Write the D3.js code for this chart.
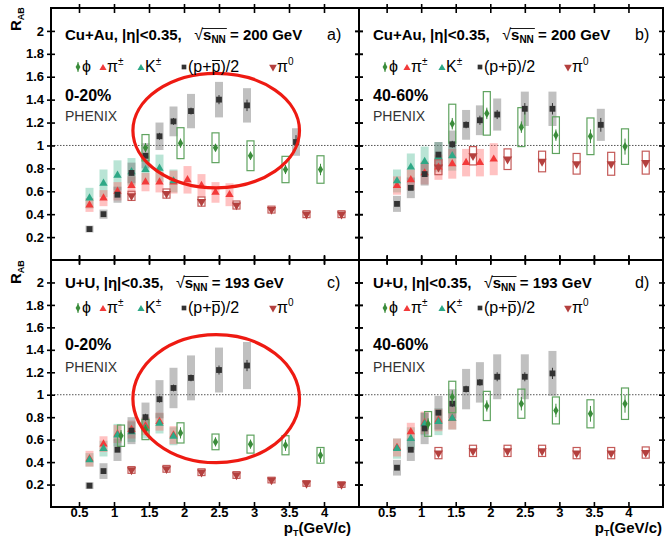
<!DOCTYPE html>
<html>
<head>
<meta charset="utf-8">
<script src="https://cdn.jsdelivr.net/npm/d3@7"></script>
<style>
  body { margin: 0; background: #fff; }
  svg { display: block; font-family: "Liberation Sans", Arial, Helvetica, sans-serif; }
</style>
</head>
<body>
<div id="chart"></div>
<script>
// pT bin centres (GeV/c)
const ptPiK = [0.65, 0.85, 1.05, 1.25, 1.45, 1.65, 1.85, 2.05, 2.25, 2.45, 2.65];
const ptP = [0.65, 0.85, 1.05, 1.25, 1.45, 1.65, 1.85, 2.1, 2.5, 2.9, 3.6];
const ptPhiCuAu = [1.45, 1.95, 2.45, 2.95, 3.45, 3.95];
const ptPhiUU = [1.1, 1.45, 1.95, 2.45, 2.95, 3.45, 3.95];
const ptPi0 = [1.25, 1.75, 2.25, 2.75, 3.25, 3.75, 4.25];

const xTicks = [0.5, 1, 1.5, 2, 2.5, 3, 3.5, 4];
const yTicks = [0.2, 0.4, 0.6, 0.8, 1, 1.2, 1.4, 1.6, 1.8, 2];

// a) Cu+Au 0-20%
const phiA = [0.98, 1.02, 0.98, 0.91, 0.79, 0.79];
const phiAsys = [0.115, 0.135, 0.13, 0.13, 0.115, 0.12];
const phiAstat = [0.04, 0.04, 0.03, 0.035, 0.04, 0.05];
const piA = [0.48, 0.54, 0.60, 0.65, 0.68, 0.68, 0.68, 0.70, 0.65, 0.59, 0.57];
const piAsys = [0.06, 0.07, 0.08, 0.08, 0.08, 0.09, 0.1, 0.12, 0.1, 0.09, 0.1];
const kA = [0.54, 0.67, 0.74, 0.77, 0.79, 0.80, 0.69];
const kAsys = [0.09, 0.12, 0.13, 0.12, 0.12, 0.12, 0.1];
const pA = [0.27, 0.40, 0.57, 0.76, 0.91, 1.08, 1.21, 1.30, 1.40, 1.35, 1.03];
const pAsys = [0.03, 0.04, 0.07, 0.09, 0.11, 0.12, 0.13, 0.15, 0.155, 0.15, 0.12];
const pAstat = [0.01, 0.01, 0.02, 0.02, 0.02, 0.03, 0.03, 0.03, 0.04, 0.05, 0.06];
const pi0A = [0.56, 0.58, 0.51, 0.48, 0.44, 0.40, 0.40];
const pi0Asys = [0.04, 0.04, 0.04, 0.035, 0.03, 0.03, 0.03];

// b) Cu+Au 40-60%
const phiB = [1.19, 1.28, 1.16, 1.09, 1.08, 0.99];
const phiBsys = [0.17, 0.19, 0.17, 0.16, 0.16, 0.155];
const phiBstat = [0.05, 0.05, 0.05, 0.05, 0.06, 0.07];
const piB = [0.65, 0.70, 0.76, 0.81, 0.84, 0.85, 0.85, 0.88];
const piBsys = [0.08, 0.09, 0.1, 0.11, 0.13, 0.12, 0.12, 0.14];
const kB = [0.69, 0.81, 0.86, 0.90, 0.91];
const kBsys = [0.1, 0.12, 0.13, 0.13, 0.13];
const pB = [0.49, 0.63, 0.75, 0.92, 1.01, 1.18, 1.22, 1.27, 1.32, 1.32, 1.18];
const pBsys = [0.07, 0.09, 0.1, 0.11, 0.12, 0.13, 0.13, 0.14, 0.15, 0.15, 0.14];
const pBstat = [0.01, 0.02, 0.02, 0.02, 0.03, 0.03, 0.04, 0.04, 0.05, 0.05, 0.06];
const pi0B = [0.81, 0.91, 0.88, 0.86, 0.84, 0.84, 0.85];
const pi0Bsys = [0.065, 0.08, 0.09, 0.09, 0.09, 0.1, 0.1];

// c) U+U 0-20%
const phiC = [0.635, 0.69, 0.66, 0.58, 0.56, 0.55, 0.46];
const phiCsys = [0.095, 0.09, 0.09, 0.07, 0.08, 0.085, 0.07];
const phiCstat = [0.05, 0.04, 0.05, 0.04, 0.04, 0.05, 0.06];
const piC = [0.43, 0.56, 0.65, 0.69, 0.72, 0.76, 0.64];
const piCsys = [0.07, 0.07, 0.08, 0.08, 0.08, 0.08, 0.08];
const kC = [0.42, 0.52, 0.64, 0.67, 0.70, 0.745, 0.63];
const kCsys = [0.06, 0.07, 0.1, 0.09, 0.09, 0.09, 0.08];
const pC = [0.19, 0.32, 0.51, 0.68, 0.80, 0.96, 1.06, 1.15, 1.22, 1.26];
const pCsys = [0.03, 0.07, 0.1, 0.12, 0.13, 0.17, 0.18, 0.2, 0.2, 0.21];
const pCstat = [0.01, 0.01, 0.02, 0.02, 0.03, 0.03, 0.03, 0.03, 0.04, 0.05];
const pi0C = [0.33, 0.34, 0.31, 0.285, 0.24, 0.21, 0.20];
const pi0Csys = [0.03, 0.03, 0.03, 0.03, 0.025, 0.025, 0.025];

// d) U+U 40-60%
const phiD = [0.74, 0.98, 0.90, 0.92, 0.86, 0.83, 0.92];
const phiDsys = [0.11, 0.14, 0.13, 0.13, 0.12, 0.125, 0.14];
const phiDstat = [0.05, 0.06, 0.05, 0.06, 0.06, 0.07, 0.08];
const piD = [0.53, 0.67, 0.75, 0.775, 0.79];
const piDsys = [0.08, 0.08, 0.1, 0.1, 0.1];
const kD = [0.52, 0.61, 0.74, 0.76, 0.79];
const kDsys = [0.09, 0.1, 0.1, 0.12, 0.1];
const pD = [0.35, 0.51, 0.70, 0.84, 0.92, 1.05, 1.11, 1.16, 1.16, 1.19];
const pDsys = [0.07, 0.1, 0.14, 0.15, 0.13, 0.18, 0.18, 0.2, 0.2, 0.2];
const pDstat = [0.01, 0.02, 0.02, 0.02, 0.03, 0.03, 0.03, 0.04, 0.04, 0.05];
const pi0D = [0.48, 0.50, 0.50, 0.50, 0.48, 0.48, 0.485];
const pi0Dsys = [0.05, 0.05, 0.05, 0.05, 0.05, 0.05, 0.05];

const panels = [
  { tag: "a)", row: 0, col: 0, sys: "Cu+Au", energy: "200", cent: "0-20%", ptPhi: ptPhiCuAu,
    phi: phiA, phiSys: phiAsys, phiStat: phiAstat, pi: piA, piSys: piAsys, k: kA, kSys: kAsys,
    p: pA, pSys: pAsys, pStat: pAstat, pi0: pi0A, pi0Sys: pi0Asys, ring: [2.46, 1.13, 1.19, 0.50] },
  { tag: "b)", row: 0, col: 1, sys: "Cu+Au", energy: "200", cent: "40-60%", ptPhi: ptPhiCuAu,
    phi: phiB, phiSys: phiBsys, phiStat: phiBstat, pi: piB, piSys: piBsys, k: kB, kSys: kBsys,
    p: pB, pSys: pBsys, pStat: pBstat, pi0: pi0B, pi0Sys: pi0Bsys },
  { tag: "c)", row: 1, col: 0, sys: "U+U", energy: "193", cent: "0-20%", ptPhi: ptPhiUU,
    phi: phiC, phiSys: phiCsys, phiStat: phiCstat, pi: piC, piSys: piCsys, k: kC, kSys: kCsys,
    p: pC, pSys: pCsys, pStat: pCstat, pi0: pi0C, pi0Sys: pi0Csys, ring: [2.46, 0.965, 1.19, 0.57] },
  { tag: "d)", row: 1, col: 1, sys: "U+U", energy: "193", cent: "40-60%", ptPhi: ptPhiUU,
    phi: phiD, phiSys: phiDsys, phiStat: phiDstat, pi: piD, piSys: piDsys, k: kD, kSys: kDsys,
    p: pD, pSys: pDsys, pStat: pDstat, pi0: pi0D, pi0Sys: pi0Dsys }
];

const W = 665, H = 539;
const cols = [[51, 359], [359, 663]];
const rows = [[8, 260], [260, 507]];
const rowText = [
  { title: 40, legend: 72, cent: 101, phenix: 121 },
  { title: 288, legend: 313, cent: 350, phenix: 372 }
];
const legendOffsets = [
  [27, 52, 90, 133, 222],
  [26, 48, 83, 121, 209]
];

const colors = {
  phi: "#3a8c3a", phiBox: "#5fa35f",
  pi: "#f23a3a", piBox: "rgba(255,110,110,0.42)",
  k: "#2ea886", kBox: "rgba(70,185,145,0.38)",
  p: "#333333", pBox: "rgba(115,115,115,0.45)",
  pi0: "#b4403e", pi0Box: "#c45a58"
};

const fmt = d3.format("~g");
const svg = d3.select("#chart").append("svg").attr("width", W).attr("height", H);

const sym = (type, size) => d3.symbol().type(type).size(size)();

function zip(pt, v, e, s) {
  return v.map((d, i) => ({ x: pt[i], y: d, e: e ? e[i] : 0, s: s ? s[i] : 0 }));
}

function filledBoxes(g, x, y, data, color) {
  g.append("g").selectAll("rect").data(data).enter().append("rect")
    .attr("x", d => x(d.x) - 4)
    .attr("width", 8)
    .attr("y", d => y(d.y + d.e))
    .attr("height", d => y(d.y - d.e) - y(d.y + d.e))
    .attr("fill", color);
}

function openBoxes(g, x, y, data, color) {
  g.append("g").selectAll("rect").data(data).enter().append("rect")
    .attr("x", d => x(d.x) - 3.5)
    .attr("width", 7)
    .attr("y", d => y(d.y + d.e))
    .attr("height", d => y(d.y - d.e) - y(d.y + d.e))
    .attr("fill", "none")
    .attr("stroke", color)
    .attr("stroke-width", 1.2);
}

function statBars(g, x, y, data, color) {
  g.append("g").selectAll("line").data(data).enter().append("line")
    .attr("x1", d => x(d.x)).attr("x2", d => x(d.x))
    .attr("y1", d => y(d.y + d.s)).attr("y2", d => y(d.y - d.s))
    .attr("stroke", color).attr("stroke-width", 1);
}

function markers(g, x, y, data, path, color, rot) {
  g.append("g").selectAll("path").data(data).enter().append("path")
    .attr("d", path)
    .attr("transform", d => `translate(${x(d.x)},${y(d.y)})` + (rot ? " rotate(180)" : ""))
    .attr("fill", color);
}

function drawPanel(p) {
  const [x0, x1] = cols[p.col];
  const [yt, yb] = rows[p.row];
  const x = d3.scaleLinear().domain([0.1, 4.5]).range([x0, x1]);
  const y = d3.scaleLinear().domain([0, 2.2]).range([yb, yt]);
  const g = svg.append("g");
  const rt = rowText[p.row];

  // unity line
  g.append("line")
    .attr("x1", x0).attr("x2", x1).attr("y1", y(1)).attr("y2", y(1))
    .attr("stroke", "#555").attr("stroke-width", 1).attr("stroke-dasharray", "1.5,1.5");

  const kData = zip(ptPiK, p.k, p.kSys);
  const piData = zip(ptPiK, p.pi, p.piSys);
  const pData = zip(ptP, p.p, p.pSys, p.pStat);
  const phiData = zip(p.ptPhi, p.phi, p.phiSys, p.phiStat);
  const pi0Data = zip(ptPi0, p.pi0, p.pi0Sys);

  // systematic boxes
  filledBoxes(g, x, y, kData, colors.kBox);
  filledBoxes(g, x, y, piData, colors.piBox);
  filledBoxes(g, x, y, pData, colors.pBox);
  openBoxes(g, x, y, pi0Data, colors.pi0Box);
  openBoxes(g, x, y, phiData, colors.phiBox);

  // points
  markers(g, x, y, piData, sym(d3.symbolTriangle, 30), colors.pi);
  markers(g, x, y, kData, sym(d3.symbolTriangle, 30), colors.k);
  markers(g, x, y, pi0Data, sym(d3.symbolTriangle, 36), colors.pi0, true);
  statBars(g, x, y, pData, colors.p);
  markers(g, x, y, pData, sym(d3.symbolSquare, 34), colors.p);
  statBars(g, x, y, phiData, colors.phi);
  markers(g, x, y, phiData, sym(d3.symbolDiamond, 24), colors.phi);

  // highlight ring
  if (p.ring) {
    const [cx, cy, rx, ry] = p.ring;
    g.append("ellipse")
      .attr("cx", x(cx)).attr("cy", y(cy))
      .attr("rx", x(cx + rx) - x(cx)).attr("ry", y(cy) - y(cy + ry))
      .attr("fill", "none").attr("stroke", "#ee1a12").attr("stroke-width", 3.2);
  }

  // axes: ticks on all four sides
  const left = g.append("g").attr("transform", `translate(${x0},0)`)
    .call(d3.axisLeft(y).tickValues(yTicks).tickSize(4).tickPadding(3)
      .tickFormat(p.col === 0 ? fmt : ""));
  left.selectAll(".tick line").attr("x1", 4);
  left.selectAll("text").attr("font-size", 13).attr("font-weight", "bold").attr("fill", "#000")
    .attr("font-family", "Liberation Sans, Arial, sans-serif");

  const right = g.append("g").attr("transform", `translate(${x1},0)`)
    .call(d3.axisRight(y).tickValues(yTicks).tickSize(4).tickFormat(""));
  right.selectAll(".tick line").attr("x1", -4);

  const bottom = g.append("g").attr("transform", `translate(0,${yb})`)
    .call(d3.axisBottom(x).tickValues(xTicks).tickSize(4)
      .tickFormat(p.row === 1 ? fmt : ""));
  bottom.selectAll(".tick line").attr("y1", -5).attr("y2", p.row === 1 ? 0 : 4);
  bottom.selectAll("text").attr("y", 1).attr("font-size", 13).attr("font-weight", "bold")
    .attr("fill", "#000").attr("font-family", "Liberation Sans, Arial, sans-serif");

  const top = g.append("g").attr("transform", `translate(0,${yt})`)
    .call(d3.axisTop(x).tickValues(xTicks).tickSize(4).tickFormat(""));
  top.selectAll(".tick line").attr("y1", 5);

  [left, right, bottom, top].forEach(a => {
    a.select(".domain").remove();
    a.selectAll(".tick line").attr("stroke", "#000").attr("stroke-width", 1.6);
  });

  g.append("rect")
    .attr("x", x0).attr("y", yt).attr("width", x1 - x0).attr("height", yb - yt)
    .attr("fill", "none").attr("stroke", "#000").attr("stroke-width", 2);

  // title with sqrt(s_NN)
  const tx = x0 + 14;
  const head = p.sys + ", |\u03b7|<0.35,   ";
  const title = g.append("text").attr("x", tx).attr("y", rt.title)
    .attr("font-size", 15).attr("font-weight", "bold").attr("xml:space", "preserve")
    .style("white-space", "pre");
  title.append("tspan").text(head);
  title.append("tspan").attr("font-weight", "normal").attr("font-size", 16).text("\u221a");
  title.append("tspan").text("s");
  title.append("tspan").attr("font-size", 10).attr("dy", 3).text("NN");
  title.append("tspan").attr("dy", -3).text(" = " + p.energy + " GeV");
  const node = title.node();
  const rootExt = node.getExtentOfChar(head.length);
  const nnExt = node.getExtentOfChar(head.length + 3);
  g.append("line")
    .attr("x1", rootExt.x + rootExt.width - 1).attr("x2", nnExt.x + nnExt.width + 1)
    .attr("y1", rootExt.y + 2.5).attr("y2", rootExt.y + 2.5)
    .attr("stroke", "#000").attr("stroke-width", 0.9);

  g.append("text").attr("x", x0 + 276).attr("y", rt.title)
    .attr("font-size", 16).text(p.tag);

  // legend
  const lo = legendOffsets[p.col];
  const ly = rt.legend;
  const lg = g.append("g").attr("font-size", 16);
  lg.append("path").attr("d", sym(d3.symbolDiamond, 20))
    .attr("transform", `translate(${x0 + lo[0]},${ly - 5})`).attr("fill", colors.phi);
  lg.append("line").attr("x1", x0 + lo[0]).attr("x2", x0 + lo[0])
    .attr("y1", ly - 10).attr("y2", ly).attr("stroke", colors.phi);
  lg.append("text").attr("x", x0 + lo[0] + 4).attr("y", ly).text("\u03d5");

  lg.append("path").attr("d", sym(d3.symbolTriangle, 22))
    .attr("transform", `translate(${x0 + lo[1]},${ly - 4})`).attr("fill", colors.pi);
  const tpi = lg.append("text").attr("x", x0 + lo[1] + 4).attr("y", ly);
  tpi.append("tspan").text("\u03c0");
  tpi.append("tspan").attr("font-size", 10).attr("dy", -7).text("\u00b1");

  lg.append("path").attr("d", sym(d3.symbolTriangle, 22))
    .attr("transform", `translate(${x0 + lo[2]},${ly - 4})`).attr("fill", colors.k);
  const tk = lg.append("text").attr("x", x0 + lo[2] + 4).attr("y", ly);
  tk.append("tspan").text("K");
  tk.append("tspan").attr("font-size", 10).attr("dy", -7).text("\u00b1");

  lg.append("path").attr("d", sym(d3.symbolSquare, 22))
    .attr("transform", `translate(${x0 + lo[3]},${ly - 5})`).attr("fill", colors.p);
  const tp = lg.append("text").attr("x", x0 + lo[3] + 4).attr("y", ly).text("(p+p)/2");
  const pbar = tp.node().getExtentOfChar(3);
  lg.append("line").attr("x1", pbar.x + 0.5).attr("x2", pbar.x + pbar.width - 0.5)
    .attr("y1", ly - 11.5).attr("y2", ly - 11.5).attr("stroke", "#000").attr("stroke-width", 1);

  lg.append("path").attr("d", sym(d3.symbolTriangle, 26))
    .attr("transform", `translate(${x0 + lo[4]},${ly - 5}) rotate(180)`).attr("fill", colors.pi0);
  const tpi0 = lg.append("text").attr("x", x0 + lo[4] + 4).attr("y", ly);
  tpi0.append("tspan").text("\u03c0");
  tpi0.append("tspan").attr("font-size", 10).attr("dy", -7).text("0");

  g.append("text").attr("x", tx).attr("y", rt.cent)
    .attr("font-size", 16).attr("font-weight", "bold").text(p.cent);
  g.append("text").attr("x", tx).attr("y", rt.phenix)
    .attr("font-size", 14).attr("fill", "#333").text("PHENIX");
}

panels.forEach(drawPanel);

// axis titles
[31, 284].forEach(yy => {
  const t = svg.append("text").attr("transform", `translate(21,${yy}) rotate(-90)`)
    .attr("font-size", 15).attr("font-weight", "bold");
  t.append("tspan").text("R");
  t.append("tspan").attr("font-size", 9).attr("dy", 3).text("AB");
});

[351, 662].forEach(xe => {
  const t = svg.append("text").attr("x", xe).attr("y", 533).attr("text-anchor", "end")
    .attr("font-size", 15).attr("font-weight", "bold");
  t.append("tspan").text("p");
  t.append("tspan").attr("font-size", 9).attr("dy", 3).text("T");
  t.append("tspan").attr("dy", -3).text("(GeV/c)");
});
</script>
</body>
</html>
